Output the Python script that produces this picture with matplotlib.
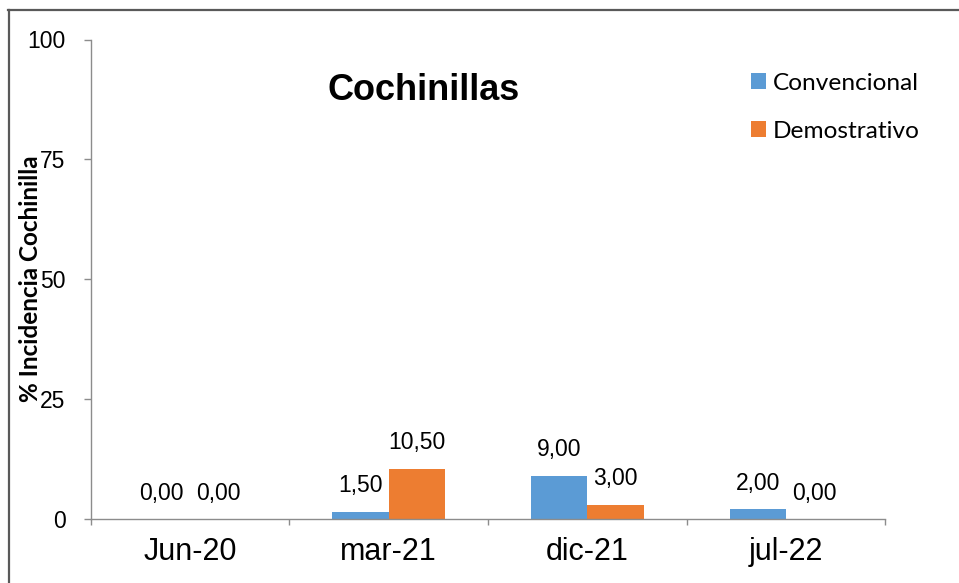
import matplotlib
matplotlib.use("Agg")
import matplotlib.pyplot as plt
import numpy as np
from matplotlib.lines import Line2D
from matplotlib.patches import Patch

categories = ["Jun-20", "mar-21", "dic-21", "jul-22"]
convencional = [0.0, 1.5, 9.0, 2.0]
demostrativo = [0.0, 10.5, 3.0, 0.0]
series_names = ["Convencional", "Demostrativo"]
y_ticks = [0, 25, 50, 75, 100]
title = "Cochinillas"
ylabel = "% Incidencia Cochinilla"

BLUE = "#5B9BD5"
ORANGE = "#ED7D31"
AXIS = "#8C8C8C"
W, H = 959, 583
SANS2 = "Lato"

fig = plt.figure(figsize=(W / 100, H / 100), dpi=100)
fig.patch.set_facecolor("white")
ax = fig.add_axes([90.5 / W, 1 - 519 / H, (885.5 - 90.5) / W, (519 - 39.5) / H])

renderer = fig.canvas.get_renderer()


def fit_size(text, family, weight, target_px):
    t = fig.text(0, 0, text, fontsize=10, family=family, weight=weight)
    w = t.get_window_extent(renderer).width
    t.remove()
    return 10 * target_px / w


x = np.arange(len(categories))
bw = 0.284
b1 = ax.bar(x - bw / 2, convencional, bw, color=BLUE, label=series_names[0])
b2 = ax.bar(x + bw / 2, demostrativo, bw, color=ORANGE, label=series_names[1])

lab_font = "Liberation Sans"
for bars, vals in ((b1, convencional), (b2, demostrativo)):
    for rect, v in zip(bars, vals):
        ax.annotate(f"{v:.2f}".replace(".", ","),
                    (rect.get_x() + rect.get_width() / 2, v),
                    xytext=(0, 18.7), textcoords="offset points",
                    ha="center", va="center", fontsize=16.5,
                    family=lab_font, color="black")

ax.set_xlim(-0.5, len(categories) - 0.5)
ax.set_ylim(0, 100)
ax.set_yticks(y_ticks)
ax.set_yticklabels([str(v) for v in y_ticks], family=lab_font, fontsize=16.5)
ax.set_xticks(x)
ax.set_xticklabels(categories, family=lab_font, fontsize=22)
ax.set_xticks(np.arange(len(categories) + 1) - 0.5, minor=True)
ax.tick_params(axis="x", which="major", length=0, pad=13)
ax.tick_params(axis="x", which="minor", length=4.5, width=1, color=AXIS, direction="out")
ax.tick_params(axis="y", which="major", length=5, width=1, color=AXIS, pad=13)

for s in ("top", "right"):
    ax.spines[s].set_visible(False)
for s in ("left", "bottom"):
    ax.spines[s].set_color(AXIS)
    ax.spines[s].set_linewidth(1)

# Title inside plot
fig.text(424 / W, 1 - 100 / H, title, ha="center", va="baseline",
         fontsize=26, family=lab_font, weight="bold")

# Y label
yl_size = fit_size(ylabel, SANS2, "bold", 248)
fig.text(31 / W, 1 - 279 / H, ylabel, rotation=90, ha="center", va="center",
         fontsize=yl_size, family=SANS2, weight="bold")

# Legend
leg_size = fit_size(series_names[0], SANS2, "normal", 146)
fpx = leg_size * 100 / 72
handles = [Patch(facecolor=BLUE, edgecolor="none"), Patch(facecolor=ORANGE, edgecolor="none")]


def make_legend(top_px, spacing):
    return fig.legend(handles, series_names, loc="upper left",
                      bbox_to_anchor=(751 / W, 1 - top_px / H),
                      frameon=False, prop={"family": SANS2, "size": leg_size},
                      handlelength=15 / fpx, handleheight=15 / fpx,
                      handletextpad=6.5 / fpx, labelspacing=spacing,
                      borderpad=0, borderaxespad=0)


def row_centers(leg):
    fig.canvas.draw()
    r = fig.canvas.get_renderer()
    cs = []
    for h in leg.legend_handles:
        bb = h.get_window_extent(r)
        cs.append(H - (bb.y0 + bb.y1) / 2)
    return cs


top, spacing = 70.0, 0.5
leg = make_legend(top, spacing)
c = row_centers(leg)
spacing += (48 - (c[1] - c[0])) / fpx
leg.remove()
leg = make_legend(top, spacing)
c = row_centers(leg)
top += 81 - c[0]
leg.remove()
leg = make_legend(top, spacing)

# Outer border (left and top only)
fig.add_artist(Line2D([8.5 / W, 8.5 / W], [0, 1 - 9.5 / H], color="#595959", lw=1.6,
                      transform=fig.transFigure))
fig.add_artist(Line2D([7.7 / W, 1], [1 - 9.5 / H, 1 - 9.5 / H], color="#595959", lw=1.6,
                      transform=fig.transFigure))

fig.savefig("out.png", dpi=100, facecolor="white")
